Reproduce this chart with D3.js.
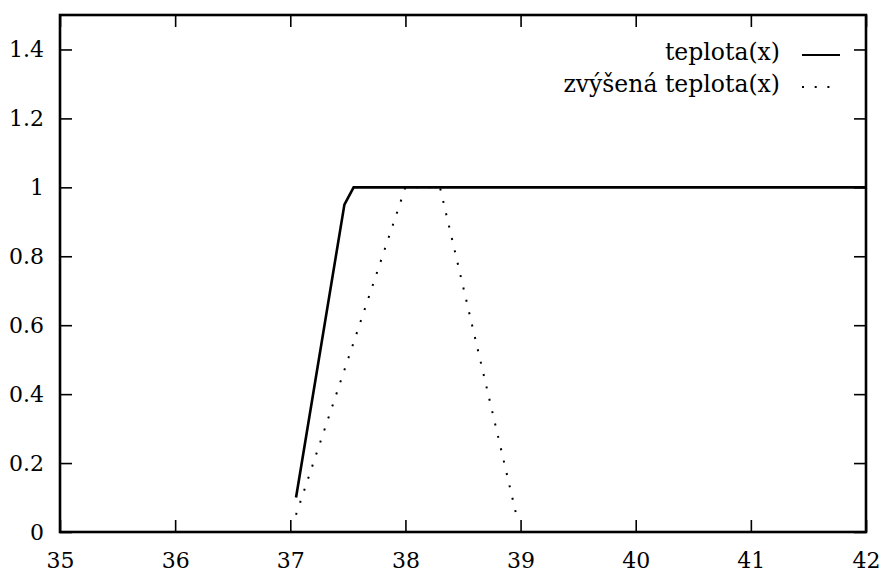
<!DOCTYPE html>
<html>
<head>
<meta charset="utf-8">
<script src="https://cdn.jsdelivr.net/npm/d3@7"></script>
<style>
  body { margin: 0; background: #fff; }
  svg text { font-family: "DejaVu Serif", "Liberation Serif", serif; }
</style>
</head>
<body>
<script>
// data
var xTicks = [35, 36, 37, 38, 39, 40, 41, 42];
var yTicks = [0, 0.2, 0.4, 0.6, 0.8, 1, 1.2, 1.4];
var teplota = [[37.05, 0.1], [37.47, 0.95], [37.55, 1], [42, 1]];
var zvysena = [[37.05, 0.05], [38.0, 1], [38.3, 1], [38.97, 0.04]];
var seriesNames = ["teplota(x)", "zvýšená teplota(x)"];

var svgWidth = 881;
var svgHeight = 575;
var plotL = 60, plotR = 866, plotT = 15, plotB = 532;

var svg = d3.select("body").append("svg")
    .attr("width", svgWidth)
    .attr("height", svgHeight);

var xScale = d3.scaleLinear().domain([35, 42]).range([plotL, plotR]);
var yScale = d3.scaleLinear().domain([0, 1.5]).range([plotB, plotT]);

// axes, ticks pointing inward
var fs = 22;
function styleAxis(g, labels) {
    g.select(".domain").remove();
    g.selectAll(".tick line").attr("stroke", "#000").attr("stroke-width", 1.6);
    g.selectAll(".tick text")
        .attr("fill", "#000")
        .attr("font-size", fs)
        .style("display", labels ? null : "none");
}

svg.append("g")
    .attr("transform", "translate(0," + plotB + ")")
    .call(d3.axisBottom(xScale).tickValues(xTicks).tickSize(-12).tickPadding(20).tickFormat(d3.format("d")))
    .call(styleAxis, true);
svg.append("g")
    .attr("transform", "translate(0," + plotT + ")")
    .call(d3.axisTop(xScale).tickValues(xTicks).tickSize(-12))
    .call(styleAxis, false);
svg.append("g")
    .attr("transform", "translate(" + plotL + ",0)")
    .call(d3.axisLeft(yScale).tickValues(yTicks).tickSize(-12).tickPadding(16).tickFormat(function(d) { return String(+d.toFixed(1)); }))
    .call(styleAxis, true);
svg.append("g")
    .attr("transform", "translate(" + plotR + ",0)")
    .call(d3.axisRight(yScale).tickValues(yTicks).tickSize(-12))
    .call(styleAxis, false);

var line = d3.line()
    .x(function(d) { return xScale(d[0]); })
    .y(function(d) { return yScale(d[1]); });

// dotted first, so the solid line covers its flat part
svg.append("path")
    .datum(zvysena)
    .attr("d", line)
    .attr("fill", "none")
    .attr("stroke", "#000")
    .attr("stroke-width", 2)
    .attr("stroke-dasharray", "2,10.7");

svg.append("path")
    .datum(teplota)
    .attr("d", line)
    .attr("fill", "none")
    .attr("stroke", "#000")
    .attr("stroke-width", 2.6);

// frame
svg.append("rect")
    .attr("x", plotL)
    .attr("y", plotT)
    .attr("width", plotR - plotL)
    .attr("height", plotB - plotT)
    .attr("fill", "none")
    .attr("stroke", "#000")
    .attr("stroke-width", 2.6);

// legend
var legendY = [52, 84];
seriesNames.forEach(function(name, i) {
    svg.append("text")
        .attr("x", 780)
        .attr("y", legendY[i])
        .attr("dy", "0.35em")
        .attr("text-anchor", "end")
        .attr("font-size", 23.5)
        .attr("fill", "#000")
        .text(name);
    svg.append("line")
        .attr("x1", 802)
        .attr("x2", 840)
        .attr("y1", legendY[i] + 3)
        .attr("y2", legendY[i] + 3)
        .attr("stroke", "#000")
        .attr("stroke-width", 2)
        .attr("stroke-dasharray", i === 0 ? null : "2,10.7");
});
</script>
</body>
</html>
